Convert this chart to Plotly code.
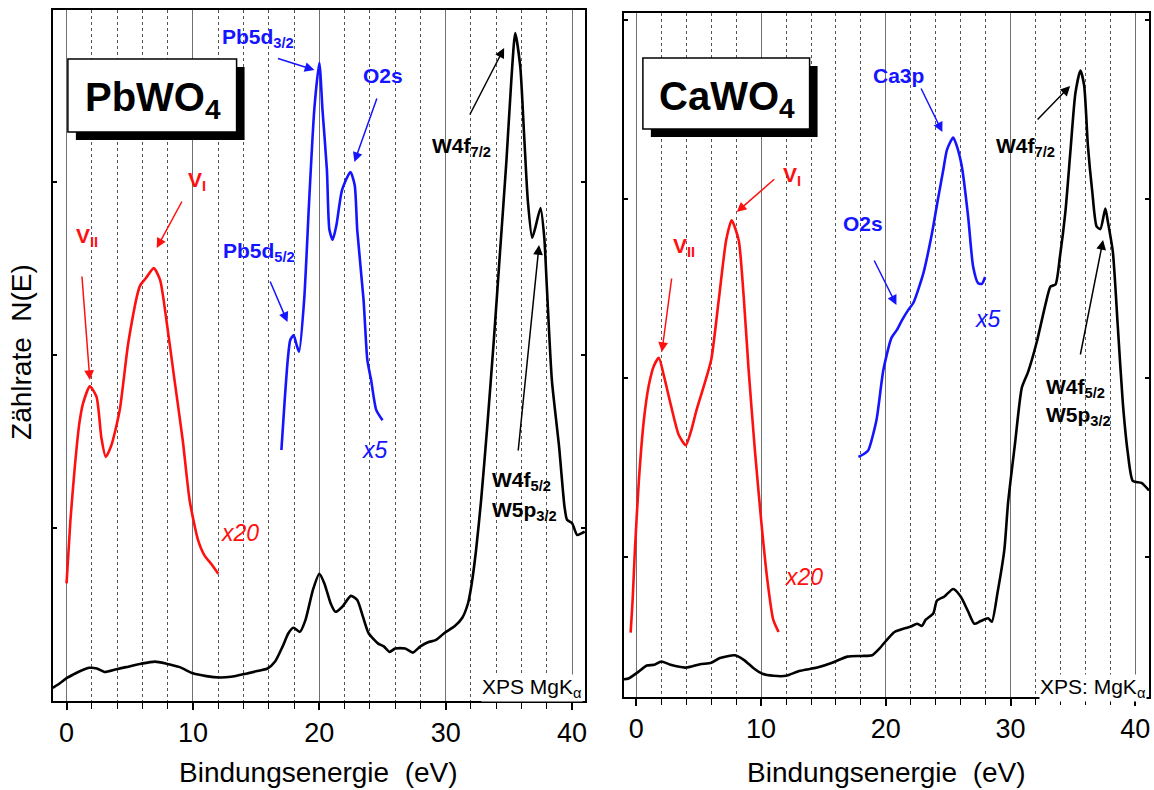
import plotly.graph_objects as go

# ---------------- data (binding energy in eV, counts in arbitrary units 0..100) -------------
pb_black_x = [-1.08, -0.5, 0.0, 0.5, 1.05, 1.8, 2.4, 3.0, 3.95, 4.7, 5.9, 7.0, 7.9, 8.95, 10.0, 11.06,
              12.1, 13.0, 14.08, 15.0, 15.9, 16.5, 17.1, 17.55, 17.95, 18.46, 18.9, 19.5, 20.0, 20.4,
              20.9, 21.27, 21.8, 22.5, 23.0, 23.45, 23.9, 24.66, 25.1, 25.57, 26.0, 26.8, 27.4, 28.0,
              28.6, 29.2, 29.95, 30.7, 31.3, 31.76, 32.06, 32.4, 32.8, 33.3, 33.8, 34.3, 34.8, 35.2,
              35.5, 35.9, 36.2, 36.5, 36.84, 37.1, 37.5, 37.8, 38.0, 38.4, 38.97, 39.4, 39.6, 40.0,
              40.4, 40.7, 41.0]
pb_black_y = [1.9, 2.6, 3.3, 3.8, 4.3, 4.8, 4.7, 4.2, 4.6, 4.9, 5.4, 5.7, 5.4, 4.9, 4.0, 3.6,
              3.4, 3.5, 3.9, 4.3, 4.7, 5.7, 7.9, 9.8, 10.6, 10.0, 11.7, 16.1, 18.4, 17.0,
              14.1, 12.9, 13.6, 15.2, 14.6, 12.2, 9.8, 8.3, 7.9, 7.1, 7.6, 7.6, 7.0, 7.9,
              8.5, 8.8, 9.9, 10.8, 12.0, 14.1, 17.0, 21.8, 29.0, 40.0, 52.0, 65.0, 78.0, 90.0,
              96.6, 91.7, 82.0, 72.3, 67.0, 68.5, 71.3, 67.0, 60.0, 46.4, 36.8, 28.1, 26.2, 25.7,
              24.0, 24.2, 24.5]

pb_red_x = [0.0, 0.3, 0.66, 1.0, 1.3, 1.84, 2.37, 2.76, 3.1, 3.55, 4.2, 4.9, 5.8, 6.3, 6.9, 7.4,
            7.9, 8.55, 9.2, 9.74, 10.4, 10.9, 11.5, 12.0]
pb_red_y = [17.0, 26.0, 34.0, 40.0, 43.0, 45.5, 44.0, 38.0, 35.3, 37.0, 42.0, 52.0, 60.0, 61.2, 62.6, 60.9,
            55.1, 46.3, 37.6, 29.0, 23.3, 21.1, 19.7, 18.4]

pb_blue_x = [17.0, 17.26, 17.5, 17.7, 17.97, 18.2, 18.4, 18.8, 19.2, 19.6, 20.0, 20.25, 20.6, 20.8,
             21.06, 21.35, 21.8, 22.46, 22.8, 23.0, 23.5, 23.8, 24.1, 24.5, 25.0]
pb_blue_y = [36.3, 43.5, 49.3, 52.2, 52.9, 51.5, 50.5, 58.0, 72.5, 85.5, 92.3, 85.5, 76.8, 68.1,
             66.7, 68.8, 73.9, 76.5, 74.6, 68.1, 58.0, 49.3, 46.4, 42.1, 40.6]

ca_black_x = [-1.0, -0.63, 0.1, 0.84, 1.43, 2.0, 2.75, 3.93, 5.1, 6.0, 6.7, 7.9, 8.64, 9.4, 10.1, 11.0,
              12.0, 13.06, 14.5, 15.7, 16.9, 18.06, 18.9, 19.5, 20.1, 20.7, 21.45, 22.0, 22.5, 22.9,
              23.2, 23.8, 24.1, 24.7, 25.4, 26.0, 26.6, 27.1, 27.6, 28.2, 28.5, 28.95, 29.5, 29.8,
              30.36, 30.9, 31.4, 32.1, 32.8, 33.2, 33.6, 33.96, 34.4, 34.8, 35.2, 35.6, 35.9, 36.2,
              36.55, 36.9, 37.2, 37.6, 37.8, 38.2, 38.6, 39.0, 39.4, 39.8, 40.5, 41.1]
ca_black_y = [2.6, 2.7, 3.6, 4.6, 4.7, 5.2, 4.7, 4.3, 4.8, 5.0, 5.7, 6.1, 5.4, 4.2, 3.4, 3.1,
              3.1, 3.8, 4.3, 5.0, 5.9, 6.0, 6.1, 7.1, 8.4, 9.5, 10.0, 10.3, 10.7, 10.4,
              11.3, 12.2, 14.1, 14.7, 15.8, 14.7, 12.5, 10.7, 11.1, 11.5, 11.0, 15.2, 21.5, 28.4,
              37.1, 45.2, 47.5, 51.9, 57.4, 60.0, 60.3, 64.4, 71.0, 79.8, 88.3, 91.6, 89.4, 80.6,
              73.9, 68.8, 68.4, 71.4, 69.5, 65.1, 54.1, 43.0, 35.7, 31.6, 31.3, 30.2]

ca_red_x = [-0.46, -0.3, -0.12, 0.2, 0.6, 1.0, 1.4, 1.8, 2.2, 2.76, 3.4, 3.96, 4.4, 4.8, 5.4, 6.0,
            6.6, 7.2, 7.64, 8.2, 8.6, 9.0, 9.5, 10.0, 10.5, 10.97, 11.4]
ca_red_y = [9.4, 14.2, 21.5, 31.7, 40.5, 45.6, 48.4, 49.6, 47.0, 42.7, 38.3, 36.8, 39.0, 41.8, 45.4, 49.3,
            58.0, 66.8, 69.7, 66.8, 58.6, 47.8, 36.1, 25.9, 17.1, 11.3, 9.5]

ca_blue_x = [17.8, 18.3, 18.6, 19.25, 19.8, 20.45, 20.9, 21.3, 21.8, 22.2, 23.0, 23.7, 24.2, 24.6,
             24.9, 25.4, 25.7, 26.1, 26.6, 27.0, 27.4, 27.7, 27.96]
ca_blue_y = [35.1, 35.6, 36.1, 40.5, 47.8, 52.5, 53.7, 55.1, 56.6, 57.6, 61.9, 67.8, 73.0, 77.0,
             80.0, 81.8, 80.5, 77.5, 70.2, 62.9, 60.5, 60.4, 61.4]

x_ticks = [0, 10, 20, 30, 40]

# ---------------- figure ----------------
W, H = 1154, 790
FONT = "Liberation Sans, Arial, sans-serif"
BLUE = "#1414ff"
RED = "#ff1010"

fig = go.Figure()

def add_line(x, y, color, xa, ya, width=2.6):
    fig.add_trace(go.Scatter(x=x, y=y, mode="lines", xaxis=xa, yaxis=ya,
                             line=dict(color=color, width=width, shape="spline", smoothing=0.6),
                             showlegend=False, hoverinfo="skip"))

add_line(pb_black_x, pb_black_y, "black", "x", "y")
add_line(pb_red_x, pb_red_y, RED, "x", "y")
add_line(pb_blue_x, pb_blue_y, BLUE, "x", "y")
add_line(ca_black_x, ca_black_y, "black", "x2", "y2")
add_line(ca_red_x, ca_red_y, RED, "x2", "y2")
add_line(ca_blue_x, ca_blue_y, BLUE, "x2", "y2")

def px(x):
    return x / W

def py(y):
    return 1 - y / H

xaxis_common = dict(
    tickvals=x_ticks, ticks="outside", ticklen=7, tickwidth=1.5, tickcolor="black",
    showgrid=True, gridcolor="#707070", gridwidth=1, zeroline=False,
    showline=True, linecolor="black", linewidth=2, mirror=True,
    tickfont=dict(family=FONT, size=27, color="black"),
    minor=dict(dtick=2, ticks="outside", ticklen=6, tickwidth=1.2, tickcolor="black",
               showgrid=True, gridcolor="#555555", griddash="dot", gridwidth=1),
)
yaxis_common = dict(
    range=[0, 100], ticks="inside", ticklen=4, tickwidth=1.5, tickcolor="black",
    showticklabels=False, showgrid=False, zeroline=False,
    showline=True, linecolor="black", linewidth=2, mirror="ticks",
)

fig.update_layout(
    width=W, height=H, margin=dict(l=0, r=0, t=0, b=0),
    paper_bgcolor="white", plot_bgcolor="white",
    xaxis=dict(domain=[px(53), px(586)], range=[-1.08, 41.02], anchor="y", **xaxis_common),
    yaxis=dict(domain=[py(701), py(9.5)], anchor="x", tickvals=[25, 50, 75, 100], **yaxis_common),
    xaxis2=dict(domain=[px(625), px(1151)], range=[-1.0, 41.1], anchor="y2", **xaxis_common),
    yaxis2=dict(domain=[py(697), py(13)], anchor="x2", tickvals=[20.5, 46.6, 72.8, 99], **yaxis_common),
)

shapes = []
def title_box(x0, y0, x1, y1, off=8):
    shapes.append(dict(type="rect", xref="paper", yref="paper", x0=px(x0 + off), x1=px(x1 + off),
                       y0=py(y1 + off), y1=py(y0 + off), fillcolor="black", line=dict(width=0), layer="above"))
    shapes.append(dict(type="rect", xref="paper", yref="paper", x0=px(x0), x1=px(x1),
                       y0=py(y1), y1=py(y0), fillcolor="white", line=dict(color="black", width=1.5), layer="above"))

title_box(68, 59, 237, 132)
title_box(644, 58, 811, 129)
fig.update_layout(shapes=shapes)

ann = []
def text(x, y, s, color="black", size=21, bold=True, italic=False, xanchor="left", yanchor="middle",
         bg=None, angle=0):
    t = s
    if bold:
        t = "<b>" + t + "</b>"
    if italic:
        t = "<i>" + t + "</i>"
    d = dict(x=px(x), y=py(y), xref="paper", yref="paper", text=t, showarrow=False,
             xanchor=xanchor, yanchor=yanchor, textangle=angle,
             font=dict(family=FONT, size=size, color=color), borderpad=0)
    if bg:
        d["bgcolor"] = bg
    ann.append(d)

def arrow(tx, ty, hx, hy, color="black", width=1.5):
    ann.append(dict(x=px(hx), y=py(hy), xref="paper", yref="paper", text="",
                    showarrow=True, axref="pixel", ayref="pixel", ax=tx - hx, ay=ty - hy,
                    arrowhead=2, arrowsize=1.3, arrowwidth=width, arrowcolor=color, standoff=0))

# panel titles
text(153, 100, "PbWO<sub>4</sub>", size=40, xanchor="center")
text(728, 99, "CaWO<sub>4</sub>", size=40, xanchor="center")

# left panel labels
text(221, 38, "Pb5d<sub>3/2</sub>", color=BLUE)
arrow(277, 58, 315, 70, BLUE)
text(363, 75, "O2s", color=BLUE)
arrow(378, 97, 355, 162, BLUE)
text(432, 147, "W4f<sub>7/2</sub>")
arrow(470, 116, 505, 48)
text(222, 252, "Pb5d<sub>5/2</sub>", color=BLUE)
arrow(270, 280, 288, 322, BLUE)
text(187, 181, "V<sub>I</sub>", color=RED)
arrow(183, 200, 157, 248, RED)
text(75, 237, "V<sub>II</sub>", color=RED)
arrow(82, 275, 90, 380, RED)
text(240, 533, "x20", color=RED, size=23, bold=False, italic=True, xanchor="center")
text(376, 450, "x5", color=BLUE, size=23, bold=False, italic=True, xanchor="center")
text(492, 481, "W4f<sub>5/2</sub>")
text(492, 511, "W5p<sub>3/2</sub>")
arrow(519, 452, 540, 245)
text(584, 688, "XPS MgK<sub>α</sub>", size=21, bold=False, xanchor="right", bg="white")

# right panel labels
text(874, 75, "Ca3p", color=BLUE)
arrow(922, 87, 944, 132, BLUE)
text(997, 147, "W4f<sub>7/2</sub>")
arrow(1038, 121, 1072, 86)
text(783, 176, "V<sub>I</sub>", color=RED)
arrow(777, 178, 738, 212, RED)
text(673, 247, "V<sub>II</sub>", color=RED)
arrow(673, 277, 663, 352, RED)
text(843, 224, "O2s", color=BLUE)
arrow(875, 259, 898, 305, BLUE)
text(990, 319, "x5", color=BLUE, size=23, bold=False, italic=True, xanchor="center")
text(805, 577, "x20", color=RED, size=23, bold=False, italic=True, xanchor="center")
text(1047, 388, "W4f<sub>5/2</sub>")
text(1047, 416, "W5p<sub>3/2</sub>")
arrow(1082, 356, 1105, 240)
text(1149, 688, "XPS: MgK<sub>α</sub>", size=21, bold=False, xanchor="right", bg="white")

# axis titles
text(319.5, 772, "Bindungsenergie\u00a0\u00a0(eV)", size=28, bold=False, xanchor="center")
text(888, 772, "Bindungsenergie\u00a0\u00a0(eV)", size=28, bold=False, xanchor="center")
text(22, 352, "Zählrate\u00a0\u00a0N(E)", size=28, bold=False, xanchor="center", angle=-90)

fig.update_layout(annotations=ann)
fig.write_html("out.html",
               config={"displayModeBar": False},
               post_script="document.body.style.margin='0';document.body.style.padding='0';"
                           "document.body.style.overflow='hidden';")
